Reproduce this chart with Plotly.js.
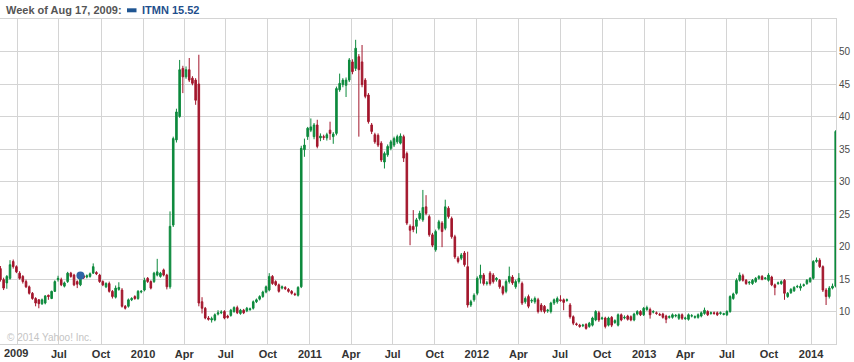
<!DOCTYPE html>
<html><head><meta charset="utf-8">
<script src="https://cdn.plot.ly/plotly-3.0.1.min.js"></script>
<style>html,body{margin:0;padding:0;background:#fff}#chart{width:854px;height:362px}</style>
</head><body><div id="chart"></div>
<script>
// Weekly ITMN candles, first week starting Mon 2009-02-23
const firstWeek = '2009-02-23';
const openP = [
16.6,14.9,14.4,15.1,17.7,16.9,15.9,15.4,14.6,13.8,
12.8,12.0,11.8,11.2,11.3,12.5,12.0,13.1,14.9,14.9,
13.9,14.6,15.9,15.6,14.6,14.1,15.5,15.3,15.4,15.9,
16.0,15.6,14.6,13.8,14.3,13.1,12.2,13.4,13.3,10.8,
10.8,11.8,12.3,12.0,13.0,13.3,15.1,14.6,14.6,15.6,
15.4,16.4,15.6,13.8,23.3,36.4,40.0,47.4,46.1,47.2,
45.9,45.6,45.0,11.5,10.5,9.0,8.7,8.7,9.6,9.8,
10.0,9.3,9.4,10.0,10.6,9.7,10.2,10.1,10.3,10.5,
11.5,11.9,12.3,13.0,13.3,15.4,14.6,14.1,13.6,13.7,
13.4,13.1,12.7,12.5,13.8,34.9,36.9,37.9,36.9,38.7,
36.7,36.9,36.7,37.9,36.9,37.4,44.1,44.9,44.8,45.6,
48.4,47.4,49.2,48.4,45.6,43.3,38.7,37.2,37.1,35.9,
33.0,34.1,35.1,35.6,36.1,35.9,36.9,34.3,23.1,23.1,
23.1,24.3,24.1,26.1,24.6,21.8,19.5,22.8,23.6,22.8,
25.9,24.3,21.5,18.2,18.2,19.0,16.9,11.0,11.8,12.8,
15.1,15.6,14.3,15.9,15.6,14.9,14.8,13.8,13.1,14.6,
15.3,13.8,14.6,14.3,11.5,12.3,11.6,11.5,11.8,11.0,
10.8,10.1,10.0,11.3,11.5,11.8,11.8,11.7,11.0,9.2,
8.1,7.9,7.8,8.0,7.7,7.9,8.7,9.8,8.9,9.0,
7.9,9.1,8.3,7.9,9.5,9.0,9.3,9.2,8.7,9.6,
10.0,9.5,10.3,10.3,9.9,9.8,9.55,9.6,9.3,9.1,
9.1,9.3,8.95,9.5,8.9,8.8,9.3,9.1,9.1,9.3,
9.7,10.0,9.7,9.8,9.8,9.7,9.55,9.5,10.0,12.0,
12.8,14.8,15.5,14.8,14.4,14.3,14.6,15.1,15.4,15.05,
14.8,15.3,14.1,14.3,14.3,14.8,12.3,12.9,13.2,13.8,
13.6,14.0,14.3,14.6,15.1,17.7,17.9,16.9,13.3,12.3,
13.6,13.9];
const highP = [
17.0,15.2,15.6,17.9,18.0,17.1,16.2,15.6,14.9,14.0,
13.0,12.2,11.9,12.0,12.5,12.6,13.2,14.8,15.5,15.2,
14.6,16.1,16.1,15.8,14.8,15.8,15.7,15.7,16.0,17.4,
16.2,15.8,14.8,14.5,14.6,13.3,14.0,14.5,13.6,11.0,
12.0,12.2,12.5,13.3,13.3,15.2,15.3,14.8,16.1,18.1,
16.1,16.6,15.8,25.4,36.9,41.2,48.7,47.8,47.7,49.0,
46.2,45.9,49.5,12.2,10.7,9.3,9.2,9.7,10.2,10.2,
10.2,9.5,10.4,10.8,10.9,10.4,10.4,10.7,10.6,11.7,
12.0,12.5,13.2,14.0,15.9,15.6,14.8,14.3,14.0,13.9,
13.6,13.3,12.9,13.9,35.5,36.6,38.4,39.7,39.0,39.5,
37.4,37.2,37.5,39.2,37.6,44.6,46.6,45.9,46.0,49.0,
48.8,51.8,49.6,51.0,45.9,43.6,39.0,37.5,37.4,36.2,
34.6,35.7,36.4,36.9,37.2,37.4,37.2,34.6,23.4,25.6,
24.4,25.5,28.7,27.9,24.9,22.1,22.6,24.1,23.9,27.2,
26.2,24.6,21.8,18.5,19.0,19.3,19.2,11.8,12.8,15.4,
17.2,15.9,14.7,16.2,15.9,15.3,15.0,14.0,14.9,16.9,
15.6,14.9,15.9,14.6,12.3,12.6,12.0,12.3,12.1,11.3,
11.0,10.4,11.5,12.0,12.3,12.5,12.0,12.0,11.3,9.4,
8.3,8.1,8.1,8.2,8.4,9.2,10.2,10.1,9.2,9.2,
9.2,9.3,8.8,9.7,9.7,9.4,9.5,9.4,9.8,10.2,
10.2,10.7,10.9,10.6,10.2,10.0,9.8,9.8,9.5,9.4,
9.7,9.6,9.7,9.7,9.2,9.7,9.6,9.4,9.7,10.0,
10.6,10.2,10.0,10.0,10.0,10.0,9.8,10.2,12.5,12.9,
15.1,16.0,15.8,15.0,14.7,15.0,15.3,15.6,15.6,15.3,
15.9,15.5,14.3,14.6,14.8,15.0,13.0,13.6,13.9,14.1,
14.3,14.3,15.0,15.3,17.9,18.3,18.2,17.1,13.6,13.9,
14.3,37.9];
const lowP = [
14.6,13.3,13.5,14.9,16.6,15.9,14.9,14.3,13.6,12.6,
11.8,10.8,10.5,11.0,11.1,11.8,11.9,13.0,14.6,13.9,
13.7,14.4,15.2,13.9,13.6,13.9,15.0,15.1,15.2,15.8,
15.6,14.4,13.9,13.6,12.9,12.0,12.0,13.2,10.6,10.3,
10.6,11.6,11.8,11.8,12.8,13.1,14.4,13.4,14.4,15.4,
15.2,15.4,13.4,13.5,23.0,36.0,39.8,43.6,45.8,45.3,
44.8,41.8,10.8,9.7,8.8,8.6,8.3,8.5,9.4,9.6,
8.8,8.9,9.2,9.8,9.6,9.5,9.6,9.9,10.1,10.3,
11.3,11.7,12.1,12.8,13.1,14.1,13.9,12.9,13.4,13.3,
12.9,12.6,12.4,12.3,13.6,33.8,36.4,37.6,36.5,35.1,
36.2,36.4,36.3,36.4,35.8,37.1,43.8,44.5,43.0,45.3,
46.5,47.0,36.9,44.5,42.8,38.9,37.3,35.8,35.3,33.0,
32.0,33.8,34.8,35.3,35.8,35.7,33.0,23.3,20.2,22.2,
22.0,24.0,23.8,24.8,21.5,19.9,19.2,22.5,19.9,22.5,
24.3,21.2,18.1,17.4,17.9,16.9,10.6,10.7,11.5,12.5,
14.3,14.0,14.0,14.0,14.3,14.6,13.5,12.5,12.8,14.3,
14.1,13.5,14.3,11.0,11.2,10.5,11.3,11.2,9.7,9.9,
9.7,9.8,9.7,11.0,11.2,11.5,10.2,11.5,8.9,7.9,
7.8,7.5,7.6,7.2,7.5,7.7,8.5,8.4,8.7,7.4,
7.7,7.6,8.1,7.7,8.5,8.8,8.6,8.5,8.5,9.4,
9.3,9.3,10.1,8.9,9.7,9.5,9.4,8.9,8.2,8.9,
8.9,9.1,8.7,8.7,8.7,8.6,9.1,8.9,8.9,9.1,
9.5,9.3,9.5,9.5,9.3,9.5,9.4,9.3,9.8,11.8,
12.6,14.6,14.6,14.1,14.1,14.1,14.4,14.9,14.8,14.9,
14.6,13.9,12.5,14.1,14.1,11.8,12.1,12.7,13.0,13.6,
13.2,13.8,14.1,14.4,14.9,17.5,16.7,13.0,11.0,12.0,
13.4,13.7];
const closeP = [
14.9,13.6,15.4,17.2,16.9,16.1,15.1,14.6,13.8,12.8,
12.0,11.3,11.2,11.8,12.4,12.3,13.1,14.6,15.1,14.1,
14.4,15.9,15.4,14.1,14.2,15.52,15.2,15.5,15.8,16.9,
15.8,14.6,14.1,14.3,13.1,12.3,13.6,13.7,10.8,10.5,
11.8,12.0,12.0,13.1,13.1,14.8,14.6,13.6,15.9,16.1,
15.9,15.6,13.8,23.1,36.6,40.7,47.2,46.1,47.2,45.6,
45.1,42.5,11.3,10.5,9.0,8.8,8.9,9.5,9.8,9.9,
9.0,9.1,10.2,10.6,9.8,10.2,9.8,10.5,10.4,11.5,
11.8,12.3,13.0,13.8,15.4,14.3,14.1,13.1,13.8,13.5,
13.1,12.8,12.6,13.7,35.1,35.6,38.2,38.4,38.7,35.4,
37.0,36.8,37.2,37.4,37.3,44.3,45.1,45.6,45.6,48.7,
46.9,50.5,47.2,44.9,43.1,39.2,37.7,36.1,35.6,33.3,
34.3,35.4,36.1,36.6,36.9,37.0,33.6,23.6,22.5,22.6,
24.1,25.1,26.0,25.1,21.8,20.2,22.3,23.8,22.3,26.1,
24.6,21.5,18.4,17.7,18.7,17.2,11.0,11.5,12.5,15.1,
15.6,14.3,14.4,14.3,14.6,15.1,13.8,12.8,14.6,15.4,
14.4,14.6,15.1,11.3,12.0,10.8,11.7,12.0,10.0,10.2,
10.0,10.2,11.3,11.8,12.0,11.7,11.4,11.8,9.2,8.2,
8.0,7.7,7.9,7.4,8.2,9.0,10.0,8.7,9.0,7.7,
9.0,7.9,8.6,9.5,8.7,9.1,8.8,8.7,9.6,10.0,
9.5,10.5,10.6,9.5,10.0,9.7,9.45,9.1,8.8,9.2,
9.5,9.4,9.5,8.95,9.0,9.5,9.35,9.2,9.5,9.8,
10.2,9.5,9.8,9.7,9.5,9.8,9.65,10.0,12.3,12.7,
14.8,15.6,14.8,14.3,14.5,14.8,15.1,15.4,14.95,15.15,
15.6,14.1,13.7,14.4,14.6,12.8,12.8,13.4,13.7,13.85,
13.9,14.1,14.8,15.1,17.7,17.9,16.9,13.3,12.3,13.6,
13.9,37.7];

const hoverWeek = '2009-08-17';
const hoverClose = 15.52;
const tickDates = ['2009-04-01','2009-07-01','2009-10-01','2010-01-01','2010-04-01','2010-07-01','2010-10-01',
  '2011-01-01','2011-04-01','2011-07-01','2011-10-01','2012-01-01','2012-04-01','2012-07-01','2012-10-01',
  '2013-01-01','2013-04-01','2013-07-01','2013-10-01','2014-01-01'];
const tickLabels = ['','Jul','Oct','2010','Apr','Jul','Oct','2011','Apr','Jul','Oct','2012','Apr','Jul','Oct',
  '2013','Apr','Jul','Oct','2014'];
const firstYearLabel = '2009';
const priceTicks = [10,15,20,25,30,35,40,45,50];

const t0 = Date.parse(firstWeek + 'T00:00:00Z');
const weeks = openP.map((_, i) => new Date(t0 + i * 7 * 86400000).toISOString().slice(0, 10));

const GREEN = '#0d8a3d', RED = '#a3162c', GRID = '#d4d4d4';
const plotW = 836, plotH = 325, topM = 19;
const px = x => x / plotW;
const py = y => 1 + (topM - y) / plotH;

const traces = [{
  type: 'candlestick', x: weeks, open: openP, high: highP, low: lowP, close: closeP,
  increasing: {line: {color: GREEN, width: 1}, fillcolor: GREEN},
  decreasing: {line: {color: RED, width: 1}, fillcolor: RED},
  whiskerwidth: 0, hoverinfo: 'skip', showlegend: false
}, {
  type: 'scatter', mode: 'markers', x: [hoverWeek], y: [hoverClose],
  marker: {size: 8, color: '#2d64a6', line: {width: 0}}, hoverinfo: 'skip', showlegend: false
}];

const layout = {
  width: 854, height: 362,
  margin: {l: 0, r: 18, t: topM, b: 18, pad: 0},
  paper_bgcolor: '#ffffff', plot_bgcolor: '#ffffff',
  showlegend: false,
  xaxis: {
    type: 'date', range: ['2009-02-22 02:00', '2014-02-24 16:00'],
    tickmode: 'array', tickvals: tickDates, ticktext: tickLabels,
    showgrid: true, gridcolor: GRID, gridwidth: 1, zeroline: false,
    showline: true, linecolor: GRID, linewidth: 1, mirror: true, ticks: '',
    tickfont: {family: 'Liberation Sans, Arial, sans-serif', size: 11, color: '#333333', weight: 'bold'},
    rangeslider: {visible: false}, fixedrange: true
  },
  yaxis: {
    side: 'right', range: [5, 55], tickmode: 'array', tickvals: priceTicks,
    showgrid: true, gridcolor: GRID, gridwidth: 1, zeroline: false,
    showline: true, linecolor: GRID, linewidth: 1, ticks: '',
    tickfont: {family: 'Liberation Sans, Arial, sans-serif', size: 10, color: '#4a4a4a'},
    fixedrange: true
  },
  shapes: [{
    type: 'rect', xref: 'paper', yref: 'paper',
    x0: px(127), x1: px(136.5), y0: py(12.3), y1: py(8.3),
    fillcolor: '#1f5592', line: {width: 0}
  }],
  annotations: [{
    xref: 'paper', yref: 'paper', x: px(3.5), y: py(10), xanchor: 'left', yanchor: 'middle',
    text: 'Week of Aug 17, 2009:', showarrow: false,
    font: {family: 'Liberation Sans, Arial, sans-serif', size: 11, color: '#555555', weight: 'bold'}
  }, {
    xref: 'paper', yref: 'paper', x: px(140), y: py(10), xanchor: 'left', yanchor: 'middle',
    text: 'ITMN ' + hoverClose.toFixed(2), showarrow: false,
    font: {family: 'Liberation Sans, Arial, sans-serif', size: 11, color: '#1f4f8c', weight: 'bold'}
  }, {
    xref: 'paper', yref: 'paper', x: px(2), y: py(353), xanchor: 'left', yanchor: 'middle',
    text: firstYearLabel, showarrow: false,
    font: {family: 'Liberation Sans, Arial, sans-serif', size: 11, color: '#333333', weight: 'bold'}
  }, {
    xref: 'paper', yref: 'paper', x: px(5), y: py(337), xanchor: 'left', yanchor: 'middle',
    text: '© 2014 Yahoo! Inc.', showarrow: false,
    font: {family: 'Liberation Sans, Arial, sans-serif', size: 10, color: '#c4c4c4'}
  }]
};

Plotly.newPlot('chart', traces, layout, {displayModeBar: false, staticPlot: true});
</script>
</body></html>
